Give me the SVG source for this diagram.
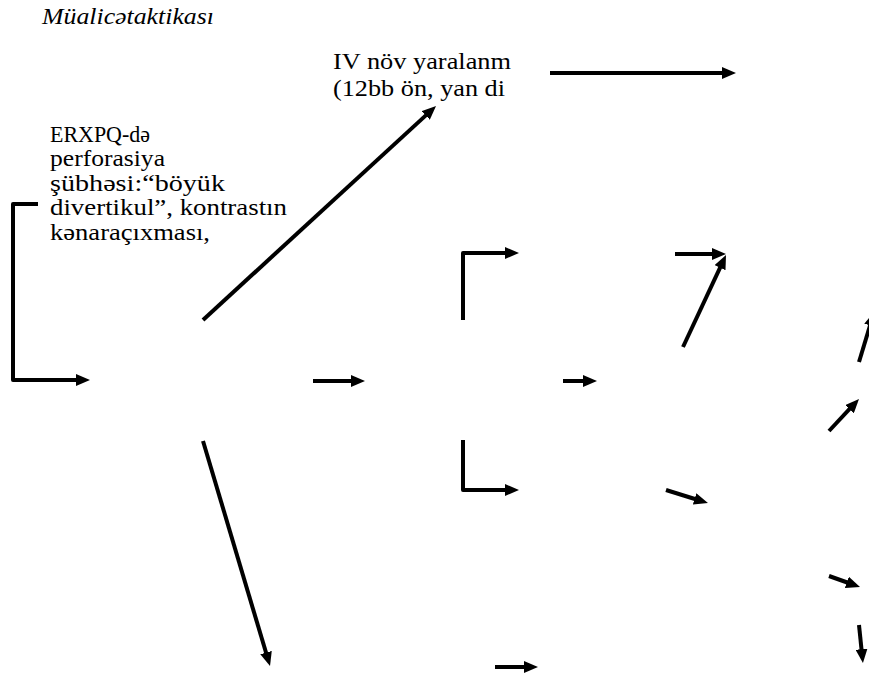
<svg xmlns="http://www.w3.org/2000/svg" width="869" height="677" viewBox="0 0 869 677">
<style>
  .t { font-family: "Liberation Serif", "DejaVu Serif", serif; font-size: 23px; fill: #000; }
  .title { font-family: "Liberation Serif", "DejaVu Serif", serif; font-size: 23px; font-style: italic; fill: #000; }
  .c { fill: none; stroke: #000; stroke-width: 4; stroke-linejoin: round; }
</style>
<defs>
  <marker id="ah" viewBox="-2 -6 14 12" refX="0" refY="0" markerWidth="14" markerHeight="12" markerUnits="userSpaceOnUse" orient="auto">
    <path d="M-2,-6 L12,0 L-2,6 Z" fill="#000"/>
  </marker>
</defs>
<rect width="869" height="677" fill="#fff"/>
<g id="title">
  <text class="title" x="42" y="24" textLength="172" lengthAdjust="spacingAndGlyphs">Müalicətaktikası</text>
</g>
<g id="node-iv">
  <text class="t" x="333" y="69" textLength="178" lengthAdjust="spacingAndGlyphs">IV növ yaralanm</text>
  <text class="t" x="333" y="96" textLength="172" lengthAdjust="spacingAndGlyphs">(12bb ön, yan di</text>
</g>
<g id="node-erxpq">
  <text class="t" x="50" y="142" textLength="100" lengthAdjust="spacingAndGlyphs">ERXPQ-də</text>
  <text class="t" x="50" y="166" textLength="115" lengthAdjust="spacingAndGlyphs">perforasiya</text>
  <text class="t" x="50" y="191" textLength="175" lengthAdjust="spacingAndGlyphs">şübhəsi:“böyük</text>
  <text class="t" x="50" y="215" textLength="237" lengthAdjust="spacingAndGlyphs">divertikul”, kontrastın</text>
  <text class="t" x="50" y="240" textLength="160" lengthAdjust="spacingAndGlyphs">kənaraçıxması,</text>
</g>
<g id="connectors" class="c">
  <path d="M38,204 H13 V380 H78" marker-end="url(#ah)"/>
  <path d="M203,320 L427.2,114.1" marker-end="url(#ah)"/>
  <path d="M550,73 H724" marker-end="url(#ah)"/>
  <path d="M313,381 H353" marker-end="url(#ah)"/>
  <path d="M563,381 H585" marker-end="url(#ah)"/>
  <path d="M463,320 V253 H507" marker-end="url(#ah)"/>
  <path d="M675,254 H714" marker-end="url(#ah)"/>
  <path d="M683,347 L720.9,265.9" marker-end="url(#ah)"/>
  <path d="M463,440 V490 H507" marker-end="url(#ah)"/>
  <path d="M666,490 L696.5,499.5" marker-end="url(#ah)"/>
  <path d="M203,441 L266.6,654.5" marker-end="url(#ah)"/>
  <path d="M495,667 H526" marker-end="url(#ah)"/>
  <path d="M859,362 L870.6,323.5" marker-end="url(#ah)"/>
  <path d="M829,431 L850.8,407.7" marker-end="url(#ah)"/>
  <path d="M829,576 L848.7,583" marker-end="url(#ah)"/>
  <path d="M859,625 L861.7,651.1" marker-end="url(#ah)"/>
</g>
</svg>
